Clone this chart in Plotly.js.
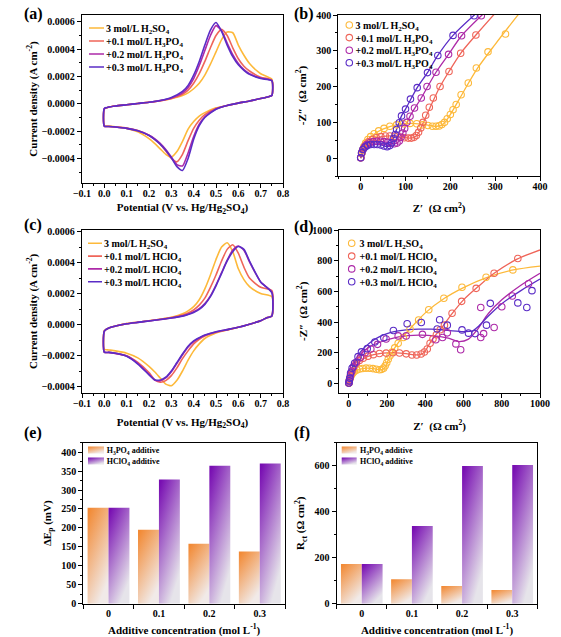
<!DOCTYPE html>
<html>
<head>
<meta charset="utf-8">
<script src="https://cdn.plot.ly/plotly-3.0.1.min.js"></script>
<style>html,body{margin:0;padding:0;background:#fff;}#plot{width:561px;height:637px;}</style>
</head>
<body>
<div id="plot"></div>
<script>
// ---------------- DATA ----------------
// CV potentials (V vs. Hg/Hg2SO4): forward and reverse sweeps
const potentialFwd = [0, 0, 0.02, 0.05, 0.1, 0.15, 0.2, 0.25, 0.3, 0.35, 0.375, 0.4, 0.425, 0.45, 0.475, 0.5, 0.525, 0.55, 0.575, 0.6, 0.625, 0.65, 0.7, 0.75];
const potentialRev = [0.75, 0.73, 0.7, 0.65, 0.6, 0.55, 0.5, 0.45, 0.425, 0.4, 0.375, 0.35, 0.325, 0.3, 0.275, 0.25, 0.225, 0.2, 0.15, 0.1, 0.05, 0.02, 0];

// Panel (a) current densities, in units of 1e-4 A cm-2
const a_H2SO4_fwd = [-1.60, -0.38, -0.24, -0.16, -0.07, 0.02, 0.11, 0.22, 0.37, 0.6, 0.8, 1.1, 1.5, 2.1, 2.9, 3.8, 4.7, 5.25, 5.2, 4.3, 3.55, 2.95, 2.2, 1.8];
const a_H2SO4_rev = [0.6, 0.5, 0.38, 0.2, 0.05, -0.12, -0.3, -0.65, -0.9, -1.3, -1.85, -2.75, -3.5, -3.9, -3.7, -3.3, -2.9, -2.55, -2.05, -1.8, -1.68, -1.63, -1.6];
const a_P01_fwd = [-1.64, -0.38, -0.24, -0.16, -0.07, 0.02, 0.11, 0.22, 0.39, 0.7, 1.0, 1.5, 2.2, 3.1, 4.1, 5.0, 5.45, 5.0, 4.1, 3.3, 2.75, 2.4, 1.95, 1.72];
const a_P01_rev = [0.6, 0.5, 0.38, 0.2, 0.05, -0.12, -0.35, -0.8, -1.2, -1.8, -2.7, -3.7, -4.25, -4.0, -3.45, -2.95, -2.6, -2.3, -1.95, -1.78, -1.7, -1.66, -1.64];
const a_P02_fwd = [-1.64, -0.36, -0.24, -0.16, -0.07, 0.02, 0.11, 0.23, 0.43, 0.8, 1.2, 1.85, 2.8, 3.9, 5.0, 5.72, 5.35, 4.45, 3.6, 2.95, 2.5, 2.2, 1.88, 1.7];
const a_P02_rev = [0.6, 0.5, 0.38, 0.2, 0.05, -0.12, -0.38, -0.95, -1.5, -2.4, -3.6, -4.55, -4.45, -3.9, -3.35, -2.9, -2.55, -2.3, -1.98, -1.8, -1.7, -1.66, -1.64];
const a_P03_fwd = [-1.64, -0.34, -0.24, -0.16, -0.07, 0.02, 0.11, 0.24, 0.46, 0.9, 1.35, 2.1, 3.1, 4.3, 5.4, 5.95, 5.3, 4.3, 3.45, 2.85, 2.45, 2.15, 1.85, 1.68];
const a_P03_rev = [0.6, 0.5, 0.38, 0.2, 0.05, -0.12, -0.4, -1.0, -1.6, -2.6, -4.0, -4.88, -4.6, -3.95, -3.4, -2.95, -2.6, -2.32, -1.98, -1.8, -1.7, -1.66, -1.64];

// Panel (c) current densities, in units of 1e-4 A cm-2
const c_H2SO4_fwd = [-1.6, -0.4, -0.22, -0.1, 0.06, 0.15, 0.24, 0.34, 0.46, 0.7, 0.88, 1.15, 1.6, 2.3, 3.2, 4.2, 5.0, 5.28, 4.7, 3.6, 2.9, 2.45, 2.0, 1.8];
const c_H2SO4_rev = [0.55, 0.45, 0.25, 0.02, -0.18, -0.35, -0.55, -0.9, -1.25, -1.7, -2.3, -3.0, -3.6, -3.95, -3.85, -3.45, -3.05, -2.7, -2.15, -1.85, -1.7, -1.64, -1.6];
const c_C01_fwd = [-1.78, -0.42, -0.22, -0.1, 0.06, 0.15, 0.24, 0.34, 0.45, 0.62, 0.75, 0.95, 1.25, 1.7, 2.4, 3.2, 4.1, 4.85, 5.15, 4.6, 3.7, 3.0, 2.4, 2.2];
const c_C01_rev = [0.55, 0.45, 0.25, 0.02, -0.18, -0.35, -0.5, -0.75, -0.95, -1.25, -1.7, -2.2, -2.8, -3.3, -3.62, -3.72, -3.55, -3.1, -2.45, -2.02, -1.86, -1.8, -1.78];
const c_C02_fwd = [-1.78, -0.42, -0.22, -0.1, 0.05, 0.14, 0.23, 0.32, 0.42, 0.55, 0.66, 0.82, 1.02, 1.35, 1.85, 2.55, 3.35, 4.15, 4.8, 5.07, 4.8, 4.05, 2.75, 2.1];
const c_C02_rev = [0.55, 0.45, 0.25, 0.02, -0.18, -0.33, -0.48, -0.7, -0.88, -1.1, -1.45, -1.95, -2.5, -3.05, -3.45, -3.63, -3.58, -3.2, -2.5, -2.03, -1.86, -1.8, -1.78];
const c_C03_fwd = [-1.78, -0.42, -0.22, -0.1, 0.05, 0.14, 0.23, 0.32, 0.42, 0.54, 0.64, 0.78, 0.98, 1.3, 1.8, 2.5, 3.3, 4.1, 4.7, 5.03, 4.85, 4.1, 2.75, 2.05];
const c_C03_rev = [0.55, 0.45, 0.25, 0.02, -0.18, -0.33, -0.47, -0.68, -0.85, -1.05, -1.4, -1.9, -2.45, -3.0, -3.4, -3.58, -3.56, -3.25, -2.55, -2.05, -1.86, -1.8, -1.78];

// Panel (b) EIS: measured points (Z', -Z'') and fitted curves, Ohm cm2
const b_H2SO4_zr = [0, 2, 4, 7, 11, 16, 22, 30, 40, 52, 65, 80, 95, 110, 125, 138, 150, 160, 168, 175, 181, 187, 193, 200, 206, 213, 224, 240, 258, 284, 323];
const b_H2SO4_zi = [1, 12, 22, 32, 42, 52, 60, 68, 76, 83, 89, 93, 96, 97, 96, 93, 91, 89, 89, 90, 94, 100, 110, 122, 135, 150, 177, 210, 252, 297, 347];
const b_H2SO4_fitZr = [0, 3, 8, 15, 25, 40, 60, 85, 110, 135, 155, 170, 182, 195, 210, 230, 260, 300, 352];
const b_H2SO4_fitZi = [0, 18, 35, 50, 62, 75, 86, 94, 97, 95, 91, 89, 93, 112, 143, 187, 250, 318, 402];
const b_P01_zr = [0, 3, 7, 12, 18, 26, 35, 45, 55, 65, 76, 87, 97, 106, 113, 119, 124, 129, 134, 139, 145, 153, 162, 177, 197, 223, 257];
const b_P01_zi = [1, 16, 28, 38, 46, 52, 57, 60, 62, 62, 61, 59, 57, 56, 56, 58, 63, 72, 84, 100, 120, 142, 168, 200, 242, 293, 344];
const b_P01_fitZr = [0, 3, 8, 15, 30, 50, 70, 90, 108, 120, 130, 140, 155, 177, 197, 223, 257, 300];
const b_P01_fitZi = [0, 18, 32, 42, 55, 61, 62, 59, 56, 58, 72, 100, 142, 200, 242, 293, 344, 405];
const b_P02_zr = [0, 2, 5, 9, 14, 20, 28, 36, 44, 52, 60, 68, 75, 81, 86, 90, 94, 98, 103, 110, 120, 135, 148, 168, 196, 225, 269];
const b_P02_zi = [1, 14, 24, 32, 38, 43, 46, 47, 47, 46, 44, 41, 40, 42, 48, 58, 70, 83, 100, 117, 140, 168, 200, 240, 290, 342, 398];
const b_P02_fitZr = [0, 3, 8, 15, 30, 50, 70, 80, 88, 98, 110, 135, 168, 196, 225, 275];
const b_P02_fitZi = [0, 18, 30, 39, 46, 46, 41, 41, 52, 83, 117, 168, 240, 290, 342, 405];
const b_P03_zr = [0, 2, 5, 10, 15, 22, 30, 37, 45, 52, 59, 65, 69, 73, 77, 80, 86, 91, 100, 111, 126, 149, 172, 206, 253];
const b_P03_zi = [1, 15, 24, 31, 35, 38, 38, 38, 36.5, 34, 32, 35, 43, 55, 66, 80, 99, 118, 137, 165, 197, 239, 287, 343, 398];
const b_P03_fitZr = [0, 3, 8, 15, 30, 45, 58, 66, 73, 80, 91, 100, 126, 149, 172, 206, 258];
const b_P03_fitZi = [0, 17, 28, 35, 38, 37, 32, 35, 55, 80, 118, 137, 197, 239, 287, 343, 405];

// Panel (d) EIS
const d_H2SO4_zr = [0, 2, 4, 7, 11, 16, 22, 30, 42, 56, 72, 90, 108, 126, 144, 160, 172, 182, 190, 198, 206, 215, 226, 240, 258, 285, 320, 365, 418, 497, 592, 718, 858];
const d_H2SO4_zi = [2, 12, 24, 36, 48, 60, 70, 80, 88, 94, 98, 100, 99, 97, 93, 90, 92, 100, 115, 135, 158, 180, 205, 232, 262, 300, 355, 414, 480, 555, 627, 692, 740];
const d_H2SO4_fitZr = [0, 5, 15, 30, 55, 90, 130, 160, 178, 192, 210, 240, 280, 330, 400, 500, 600, 720, 860, 1000];
const d_H2SO4_fitZi = [0, 30, 55, 75, 92, 100, 97, 90, 92, 110, 165, 232, 300, 370, 460, 555, 625, 690, 740, 765];
const d_C01_zr = [0, 3, 8, 15, 25, 38, 55, 75, 100, 128, 160, 195, 230, 265, 300, 330, 355, 378, 395, 410, 425, 440, 458, 478, 500, 540, 590, 666, 760, 884];
const d_C01_zi = [3, 25, 50, 78, 105, 130, 150, 165, 178, 188, 195, 198, 200, 199, 193, 186, 186, 192, 205, 225, 262, 290, 318, 350, 380, 458, 535, 620, 718, 814];
const d_C01_fitZr = [0, 5, 15, 30, 50, 75, 100, 130, 160, 200, 250, 300, 340, 370, 395, 420, 450, 490, 540, 600, 680, 760, 880, 1000];
const d_C01_fitZi = [0, 35, 70, 105, 135, 160, 177, 188, 195, 199, 200, 194, 187, 187, 203, 255, 310, 370, 455, 545, 635, 718, 810, 870];
const d_C02_zr = [0, 2, 5, 9, 15, 25, 40, 60, 85, 115, 150, 195, 258, 300, 385, 455, 490, 515, 560, 585, 690, 705, 690, 760, 800, 855, 940];
const d_C02_zi = [3, 15, 32, 55, 80, 110, 140, 170, 200, 225, 255, 290, 310, 310, 320, 285, 300, 330, 258, 220, 300, 325, 495, 365, 500, 570, 650];
const d_C02_fitZr = [0, 5, 15, 35, 70, 110, 170, 260, 365, 450, 520, 575, 626, 670, 730, 800, 900, 1000];
const d_C02_fitZi = [0, 40, 85, 140, 200, 240, 272, 303, 315, 310, 295, 273, 289, 348, 456, 545, 640, 718];
const d_C03_zr = [0, 2, 5, 9, 17, 30, 48, 66, 96, 136, 183, 233, 305, 379, 462, 475, 515, 592, 626, 660, 720, 740, 884, 931, 958];
const d_C03_zi = [3, 18, 35, 68, 100, 132, 175, 206, 227, 270, 298, 345, 389, 397, 355, 415, 380, 349, 328, 325, 380, 522, 525, 495, 605];
const d_C03_fitZr = [0, 5, 15, 35, 60, 87, 120, 156, 200, 243, 300, 365, 430, 487, 540, 600, 645, 680, 730, 800, 900, 1000];
const d_C03_fitZi = [0, 50, 100, 154, 205, 240, 275, 302, 325, 339, 349, 354, 354, 350, 343, 338, 342, 375, 440, 520, 605, 680];

// Panels (e), (f)
const concCategories = ['0', '0.1', '0.2', '0.3'];
const dEp_H3PO4 = [253, 195, 158, 138];
const dEp_HClO4 = [253, 328, 364, 370];
const Rct_H3PO4 = [173, 106, 77, 60];
const Rct_HClO4 = [173, 338, 599, 603];

// Labels
const namesP = ['3 mol/L H<sub>2</sub>SO<sub>4</sub>', '+0.1 mol/L H<sub>3</sub>PO<sub>4</sub>', '+0.2 mol/L H<sub>3</sub>PO<sub>4</sub>', '+0.3 mol/L H<sub>3</sub>PO<sub>4</sub>'];
const namesC = ['3 mol/L H<sub>2</sub>SO<sub>4</sub>', '+0.1 mol/L HClO<sub>4</sub>', '+0.2 mol/L HClO<sub>4</sub>', '+0.3 mol/L HClO<sub>4</sub>'];
const barNames = ['H<sub>3</sub>PO<sub>4</sub> additive', 'HClO<sub>4</sub> additive'];

// ---------------- STYLE ----------------
const FONT = 'Liberation Serif, Times New Roman, serif';
const COLORS = ['#FDB93A', '#EF6559', '#AD2AA8', '#5A2CC6'];
const ORANGE = 'rgb(242,138,53)', PURPLE = 'rgb(120,14,178)';

const data = [];
function cvTraces(fwdList, revList, names, xa, ya, lg) {
  fwdList.forEach((fwd, i) => {
    data.push({
      type: 'scatter', mode: 'lines', name: names[i],
      x: potentialFwd.concat(potentialRev),
      y: fwd.concat(revList[i]).map(v => v * 1e-4),
      line: {color: COLORS[i], width: 1.6, shape: 'spline', smoothing: 0.6},
      xaxis: xa, yaxis: ya, legend: lg, hoverinfo: 'skip'
    });
  });
}
cvTraces([a_H2SO4_fwd, a_P01_fwd, a_P02_fwd, a_P03_fwd], [a_H2SO4_rev, a_P01_rev, a_P02_rev, a_P03_rev], namesP, 'x', 'y', 'legend');
cvTraces([c_H2SO4_fwd, c_C01_fwd, c_C02_fwd, c_C03_fwd], [c_H2SO4_rev, c_C01_rev, c_C02_rev, c_C03_rev], namesC, 'x3', 'y3', 'legend3');

function eisTraces(sets, names, xa, ya, lg) {
  sets.forEach((s, i) => {
    data.push({type: 'scatter', mode: 'lines', x: s[2], y: s[3], showlegend: false,
      line: {color: COLORS[i], width: 1.3, shape: 'spline', smoothing: 0.8},
      xaxis: xa, yaxis: ya, legend: lg, hoverinfo: 'skip'});
  });
  sets.forEach((s, i) => {
    data.push({type: 'scatter', mode: 'markers', name: names[i], x: s[0], y: s[1],
      marker: {symbol: 'circle-open', size: 6.5, color: COLORS[i], line: {width: 1.1, color: COLORS[i]}},
      xaxis: xa, yaxis: ya, legend: lg, hoverinfo: 'skip'});
  });
}
eisTraces([
  [b_H2SO4_zr, b_H2SO4_zi, b_H2SO4_fitZr, b_H2SO4_fitZi],
  [b_P01_zr, b_P01_zi, b_P01_fitZr, b_P01_fitZi],
  [b_P02_zr, b_P02_zi, b_P02_fitZr, b_P02_fitZi],
  [b_P03_zr, b_P03_zi, b_P03_fitZr, b_P03_fitZi]], namesP, 'x2', 'y2', 'legend2');
eisTraces([
  [d_H2SO4_zr, d_H2SO4_zi, d_H2SO4_fitZr, d_H2SO4_fitZi],
  [d_C01_zr, d_C01_zi, d_C01_fitZr, d_C01_fitZi],
  [d_C02_zr, d_C02_zi, d_C02_fitZr, d_C02_fitZi],
  [d_C03_zr, d_C03_zi, d_C03_fitZr, d_C03_fitZi]], namesC, 'x4', 'y4', 'legend4');

[[dEp_H3PO4, dEp_HClO4, 'x5', 'y5', 'legend5'], [Rct_H3PO4, Rct_HClO4, 'x6', 'y6', 'legend6']].forEach(p => {
  data.push({type: 'bar', name: barNames[0], x: concCategories, y: p[0], marker: {color: ORANGE, line: {width: 0}}, xaxis: p[2], yaxis: p[3], legend: p[4], hoverinfo: 'skip'});
  data.push({type: 'bar', name: barNames[1], x: concCategories, y: p[1], marker: {color: PURPLE, line: {width: 0}}, xaxis: p[2], yaxis: p[3], legend: p[4], hoverinfo: 'skip'});
});

function ax(extra) {
  return Object.assign({
    showline: true, linecolor: 'black', linewidth: 1.3, mirror: true,
    ticks: 'outside', ticklen: 4, tickwidth: 1.1, tickcolor: 'black',
    showgrid: false, zeroline: false,
    tickfont: {family: FONT, size: 10, color: 'black', weight: 'bold'}
  }, extra);
}
function ttl(t, so) {
  const o = {text: t, font: {family: FONT, size: 11, color: 'black', weight: 'bold'}};
  if (so !== undefined) o.standoff = so;
  return o;
}
function mn(d) { return {ticks: 'outside', ticklen: 2, tickwidth: 1, tickcolor: 'black', dtick: d, showgrid: false}; }
function leg(x, y, size) {
  return {x: x, y: y, xanchor: 'left', yanchor: 'top', bgcolor: 'rgba(0,0,0,0)', borderwidth: 0,
    font: {family: FONT, size: size, color: 'black', weight: 'bold'}, tracegroupgap: 0};
}
const W = 561, H = 637;
const px = v => v / W, py = v => 1 - v / H;

// legend left edges (px) and where their texts should start (px)
const LEG = {
  legend:  {left: 84,    top: 13.5,  size: 10, gap: 13,   textLeft: 106,   line: 'M5,0h15'},
  legend2: {left: 329.3, top: 10.5,  size: 10, gap: 12.6, textLeft: 355.5},
  legend3: {left: 83,    top: 228.8, size: 10, gap: 12.8, textLeft: 104,   line: 'M5,0h14'},
  legend4: {left: 331.7, top: 228.8, size: 10, gap: 12.8, textLeft: 359.5},
  legend5: {left: 76,    top: 435.5, size: 8,  gap: 11,   textLeft: 106.7, swatch: 'M8,3.5H-8V-3.5H8Z'},
  legend6: {left: 329.2, top: 435.5, size: 8,  gap: 11,   textLeft: 360,   swatch: 'M7.5,3.5H-7.5V-3.5H7.5Z'}
};

const layout = {
  width: W, height: H, margin: {l: 0, r: 0, t: 0, b: 0},
  paper_bgcolor: 'white', plot_bgcolor: 'white',
  font: {family: FONT, size: 10, color: 'black'},
  barmode: 'group', bargap: 0.17, bargroupgap: 0,
  hovermode: false, showlegend: true,
  xaxis: ax({domain: [px(82), px(283)], anchor: 'y', range: [-0.1, 0.8], dtick: 0.1, tick0: 0, tickformat: '.1f', minor: mn(0.05),
    ticklabelstandoff: -3, title: ttl('Potential (V vs. Hg/Hg<sub>2</sub>SO<sub>4</sub>)', 5)}),
  yaxis: ax({domain: [py(183), py(15)], anchor: 'x', range: [-0.00058, 0.00065], dtick: 0.0002, tick0: 0, tickformat: '.4f', minor: mn(0.0001),
    title: ttl('Current density (A cm<sup>-2</sup>)')}),
  xaxis2: ax({domain: [px(338.3), px(540)], anchor: 'y2', range: [-50, 400], dtick: 100, tick0: 0, minor: mn(50),
    ticklabelstandoff: -3, title: ttl('Z′  (Ω cm<sup>2</sup>)', 13)}),
  yaxis2: ax({domain: [py(176), py(15)], anchor: 'x2', range: [-50, 400], dtick: 100, tick0: 0, minor: mn(50),
    title: ttl('-Z″  (Ω cm<sup>2</sup>)')}),
  xaxis3: ax({domain: [px(82), px(283)], anchor: 'y3', range: [-0.1, 0.8], dtick: 0.1, tick0: 0, tickformat: '.1f', minor: mn(0.05),
    ticklabelstandoff: -3, title: ttl('Potential (V vs. Hg/Hg<sub>2</sub>SO<sub>4</sub>)', 10)}),
  yaxis3: ax({domain: [py(392.7), py(230)], anchor: 'x3', range: [-0.00044, 0.00061], dtick: 0.0002, tick0: 0, tickformat: '.4f', minor: mn(0.0001),
    title: ttl('Current density (A cm<sup>-2</sup>)')}),
  xaxis4: ax({domain: [px(339.3), px(540)], anchor: 'y4', range: [-50, 1000], dtick: 200, tick0: 0, minor: mn(100),
    ticklabelstandoff: -3, title: ttl('Z′  (Ω cm<sup>2</sup>)', 14)}),
  yaxis4: ax({domain: [py(392.7), py(230)], anchor: 'x4', range: [-60, 1000], dtick: 200, tick0: 0, minor: mn(100),
    title: ttl('-Z″  (Ω cm<sup>2</sup>)')}),
  xaxis5: ax({domain: [px(83.3), px(285)], anchor: 'y5', type: 'category', tickson: 'boundaries',
    title: ttl('Additive concentration (mol L<sup>-1</sup>)')}),
  yaxis5: ax({domain: [py(603.7), py(442.7)], anchor: 'x5', range: [0, 425], dtick: 50, tick0: 0, minor: mn(25),
    title: ttl('ΔE<sub>p</sub> (mV)')}),
  xaxis6: ax({domain: [px(336.7), px(537.3)], anchor: 'y6', type: 'category', tickson: 'boundaries',
    title: ttl('Additive concentration (mol L<sup>-1</sup>)')}),
  yaxis6: ax({domain: [py(603.7), py(442.7)], anchor: 'x6', range: [0, 700], dtick: 200, tick0: 0, minor: mn(100),
    title: ttl('R<sub>ct</sub> (Ω cm<sup>2</sup>)')}),
  annotations: [
    ['(a)', 22, 14], ['(b)', 292, 14], ['(c)', 22, 225], ['(d)', 292, 227], ['(e)', 22, 433], ['(f)', 292, 433]
  ].map(a => ({text: a[0], xref: 'paper', yref: 'paper', x: px(a[1]), y: py(a[2]), xanchor: 'left', yanchor: 'middle',
    showarrow: false, font: {family: FONT, size: 16, color: 'black', weight: 'bold'}}))
};
Object.keys(LEG).forEach(k => { layout[k] = leg(px(LEG[k].left), py(LEG[k].top), LEG[k].size); });

// ---------------- post-render styling ----------------
function parseTr(el) {
  const t = el ? (el.getAttribute('transform') || '') : '';
  const m = t.match(/translate\(\s*([-\d.e]+)[\s,]+([-\d.e]+)\s*\)/);
  return m ? [parseFloat(m[1]), parseFloat(m[2])] : [0, 0];
}
function fixLegend(gd, id, o) {
  const lg = gd.querySelector('g.' + id);
  if (!lg) return;
  const base = gd.getBoundingClientRect();
  const items = Array.from(lg.querySelectorAll('g.traces'));
  let first = null;
  items.forEach((it, i) => {
    const grp = it.parentNode && it.parentNode.classList && it.parentNode.classList.contains('groups') ? it.parentNode : null;
    const gy = parseTr(grp)[1];
    const tr = parseTr(it);
    if (first === null) first = gy + tr[1];
    it.setAttribute('transform', 'translate(' + tr[0] + ',' + (first + i * o.gap - gy) + ')');
    if (o.line) it.querySelectorAll('.legendlines path').forEach(p => p.setAttribute('d', o.line));
    if (o.swatch) it.querySelectorAll('.legendpoints path').forEach(p => p.setAttribute('d', o.swatch));
    it.querySelectorAll('text').forEach(t => {
      try {
        const r = t.getBoundingClientRect();
        const cur = parseTr(t);
        const want = base.left + o.textLeft;
        t.setAttribute('transform', 'translate(' + (cur[0] + want - r.left) + ',' + cur[1] + ')');
      } catch (e) {}
    });
  });
}
function addGradient(svg, id, c1, c2) {
  const NS = 'http://www.w3.org/2000/svg';
  if (document.getElementById(id)) return;
  let defs = svg.querySelector('defs');
  if (!defs) { defs = document.createElementNS(NS, 'defs'); svg.insertBefore(defs, svg.firstChild); }
  const g = document.createElementNS(NS, 'linearGradient');
  g.setAttribute('id', id);
  g.setAttribute('x1', '0'); g.setAttribute('y1', '0'); g.setAttribute('x2', '0.55'); g.setAttribute('y2', '1');
  [[0, c1], [0.05, c1], [1, c2]].forEach(s => {
    const st = document.createElementNS(NS, 'stop');
    st.setAttribute('offset', s[0]); st.setAttribute('stop-color', s[1]);
    g.appendChild(st);
  });
  defs.appendChild(g);
}
function postProcess(gd) {
  try {
    const svg = gd.querySelector('svg.main-svg');
    addGradient(svg, 'gradOrange', ORANGE, '#F1EAE8');
    addGradient(svg, 'gradPurple', PURPLE, '#E6E4EA');
    const norm = s => (s || '').replace(/\s+/g, '');
    gd.querySelectorAll('.barlayer path, .legendpoints path').forEach(p => {
      const f = norm(p.style.fill);
      if (f === norm(ORANGE)) p.style.fill = 'url(#gradOrange)';
      else if (f === norm(PURPLE)) p.style.fill = 'url(#gradPurple)';
    });
  } catch (e) { console.log(e); }
  Object.keys(LEG).forEach(k => {
    try { fixLegend(gd, k, LEG[k]); } catch (e) { console.log(e); }
  });
}

const gd = document.getElementById('plot');
Plotly.newPlot(gd, data, layout, {displayModeBar: false, responsive: false}).then(() => {
  postProcess(gd);
  setTimeout(() => postProcess(gd), 150);
  setTimeout(() => postProcess(gd), 600);
});
</script>
</body>
</html>
